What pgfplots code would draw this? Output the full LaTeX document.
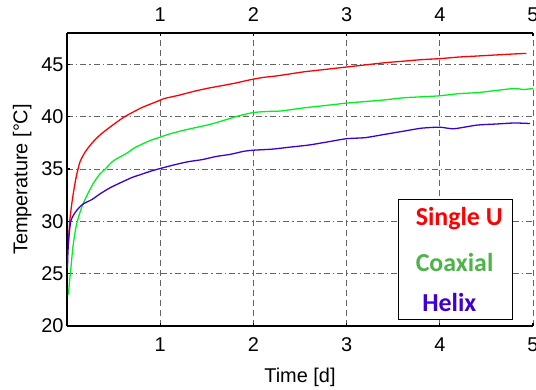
\documentclass[border=0pt]{standalone}
\usepackage{pgfplots}
\pgfplotsset{compat=1.18}
\usepackage{fontspec}
\setmainfont{Liberation Sans}
\newfontfamily\carlito{Carlito}
\usetikzlibrary{calc}
\definecolor{cRed}{RGB}{255,0,0}
\definecolor{cGreen}{RGB}{0,240,30}
\definecolor{cGreenTxt}{RGB}{76,180,72}
\definecolor{cBlue}{RGB}{60,0,215}
\definecolor{cGrid}{RGB}{100,100,100}
\begin{document}
\begin{tikzpicture}
\begin{axis}[
  name=ax,
  scale only axis, width=466bp, height=293bp,
  xmin=0, xmax=5, ymin=20, ymax=48,
  axis x line*=bottom, axis y line*=left,
  axis line style={line width=1.6pt},
  xtick={1,2,3,4,5}, ytick={20,25,30,35,40,45},
  /pgf/number format/assume math mode=true,
  tick label style={font=\fontsize{20}{23}\selectfont},
  xticklabel style={yshift=-8bp},
  label style={font=\fontsize{20}{23}\selectfont},
  xlabel={Time [d]}, ylabel={Temperature [°C]},
  xlabel style={yshift=-10bp},
  ylabel style={yshift=3bp},
  major tick length=3bp, tick style={black, line width=1.2pt},
  tick align=inside,
  grid=major,
  x grid style={cGrid, line width=0.9pt, dash pattern=on 6bp off 4bp},
  y grid style={cGrid, line width=0.9pt, dash pattern=on 6bp off 3bp on 1.5bp off 3bp},
  clip=false,
]
\addplot[cRed, line width=1.3pt, smooth, tension=0.4] coordinates {
(0.015,28.0) (0.03,30.1) (0.05,31.6) (0.07,32.8) (0.1,34.3) (0.14,35.7) (0.2,36.7)
(0.28,37.6) (0.36,38.3) (0.46,39.0) (0.6,39.9) (0.7,40.4) (0.81,40.9) (0.95,41.4)
(1.05,41.75) (1.2,42.05)
(1.35,42.4) (1.5,42.7) (1.65,42.95) (1.8,43.2) (1.95,43.5) (2.1,43.75) (2.25,43.9)
(2.4,44.1) (2.55,44.3) (2.7,44.45) (2.85,44.6) (3.0,44.75) (3.2,44.95) (3.4,45.15)
(3.6,45.3) (3.8,45.45) (4.0,45.55) (4.2,45.7) (4.4,45.8) (4.6,45.9) (4.8,46.0) (4.93,46.05)
};
\addplot[cGreen, line width=1.3pt, smooth, tension=0.4] coordinates {
(0.015,23.0) (0.02,23.5) (0.03,24.5) (0.045,25.8) (0.06,27.3) (0.08,28.6) (0.1,29.6)
(0.12,30.3) (0.16,31.4) (0.21,32.4) (0.28,33.6) (0.35,34.5) (0.41,35.0) (0.5,35.8)
(0.64,36.5) (0.72,37.0) (0.81,37.4) (0.9,37.75) (1.0,38.05)
(1.1,38.35) (1.25,38.7) (1.4,39.0) (1.55,39.3) (1.7,39.7) (1.85,40.1) (2.0,40.4)
(2.15,40.5) (2.3,40.55) (2.5,40.8) (2.7,41.0) (2.9,41.2) (3.0,41.3) (3.2,41.45)
(3.4,41.6) (3.6,41.8) (3.8,41.9) (4.0,42.0) (4.2,42.2) (4.4,42.3) (4.6,42.5)
(4.8,42.7) (4.9,42.6) (5.0,42.7)
};
\addplot[cBlue, line width=1.3pt, smooth, tension=0.4] coordinates {
(0.005,25.5) (0.01,27.0) (0.02,28.5) (0.04,30.0) (0.07,30.6) (0.1,31.0) (0.14,31.4)
(0.18,31.7) (0.27,32.1) (0.35,32.6) (0.46,33.2) (0.6,33.8) (0.7,34.2)
(0.8,34.5) (0.9,34.8) (1.0,35.05) (1.15,35.4) (1.3,35.7) (1.45,35.9) (1.6,36.2)
(1.75,36.4) (1.9,36.7) (2.0,36.8) (2.2,36.9) (2.4,37.1) (2.6,37.3) (2.8,37.6)
(3.0,37.9) (3.2,38.0) (3.4,38.3) (3.6,38.6) (3.8,38.9) (4.0,39.0) (4.15,38.85)
(4.4,39.2) (4.6,39.3) (4.8,39.4) (4.97,39.35)
};
\draw[black, line width=0.6pt, fill=white] (axis cs:3.56,20.67) rectangle (axis cs:4.78,32.1);
\node[anchor=west, inner sep=0pt, text=cRed, font=\carlito\bfseries\fontsize{26}{30}\selectfont] at (axis cs:3.74,30.3) {Single U};
\node[anchor=west, inner sep=0pt, text=cGreenTxt, font=\carlito\bfseries\fontsize{26}{30}\selectfont] at (axis cs:3.74,26.1) {Coaxial};
\node[anchor=west, inner sep=0pt, text=cBlue, font=\carlito\bfseries\fontsize{26}{30}\selectfont] at (axis cs:3.81,22.2) {Helix};
\end{axis}
\begin{axis}[
  scale only axis, width=466bp, height=293bp,
  xmin=0, xmax=5, ymin=20, ymax=48,
  axis x line*=top, axis y line=none,
  axis line style={line width=1.6pt},
  xtick={1,2,3,4,5}, ytick=\empty,
  /pgf/number format/assume math mode=true,
  tick label style={font=\fontsize{20}{23}\selectfont},
  xticklabel style={yshift=8bp},
  major tick length=3bp, tick style={black, line width=1.2pt},
  tick align=inside,
]
\addplot[draw=none] coordinates {(0,20)};
\end{axis}
\pgfresetboundingbox
\path[use as bounding box] ($(ax.south west)+(-67bp,-64bp)$) rectangle ($(ax.south west)+(469bp,326bp)$);
\end{tikzpicture}
\end{document}
